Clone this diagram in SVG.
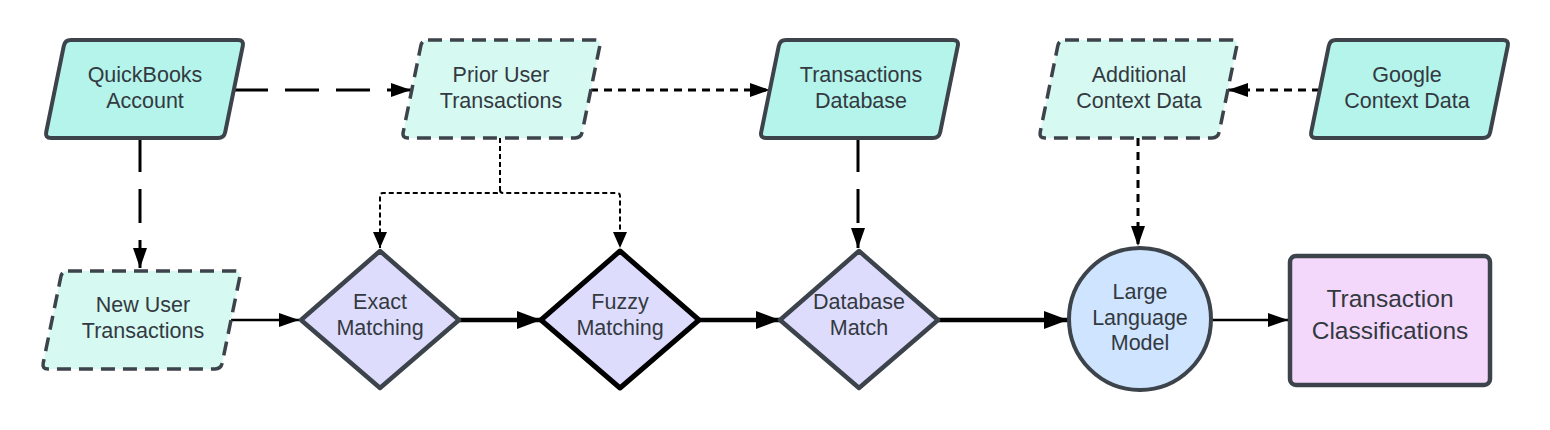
<svg xmlns="http://www.w3.org/2000/svg" xmlns:xlink="http://www.w3.org/1999/xlink" width="1550" height="430" viewBox="0 0 1550 430">
<style>
  .solid { fill: #b4f4ea; stroke: #3c434b; stroke-width: 4; stroke-linejoin: round; }
  .dashed { fill: #d6f9f2; stroke: #3c434b; stroke-width: 3.5; stroke-dasharray: 14 8; stroke-linejoin: round; }
  .dia { fill: #dedcfc; stroke: #3c434b; stroke-width: 4.5; stroke-linejoin: round; }
  .dia-b { fill: #dedcfc; stroke: #000; stroke-width: 5; stroke-linejoin: round; }
  .circ { fill: #cfe4ff; stroke: #3c434b; stroke-width: 4; }
  .rect { fill: #f3d8fb; stroke: #3c434b; stroke-width: 4.5; }
  text { font-family: "Liberation Sans", Arial, sans-serif; font-size: 21.5px; fill: #333941; text-anchor: middle; }
  .big { font-size: 24.5px; }
  .c { fill: none; stroke: #000; }
  .long { stroke-width: 3; stroke-dasharray: 34 17; marker-end: url(#ah); }
  .med { stroke-width: 3; stroke-dasharray: 8 6; marker-end: url(#ah); }
  .fine { stroke-width: 2; stroke-dasharray: 5 3; marker-end: url(#ahs); }
  .thin { stroke-width: 2.5; marker-end: url(#ah); }
  .thick { stroke-width: 4.5; marker-end: url(#ahb); }
</style>
<defs>
  <path id="para" d="M 26,0 L 193,0 Q 199,0 197.8,5.9 L 180.2,92.1 Q 179,98 173,98 L 6,98 Q 0,98 1.2,92.1 L 18.8,5.9 Q 20,0 26,0 Z"/>
  <marker id="ah" markerUnits="userSpaceOnUse" markerWidth="20" markerHeight="14" refX="20" refY="7" orient="auto">
    <path d="M0,0 L20,7 L0,14 Z" fill="#000"/>
  </marker>
  <marker id="ahs" markerUnits="userSpaceOnUse" markerWidth="16" markerHeight="14" refX="16" refY="7" orient="auto">
    <path d="M0,0 L16,7 L0,14 Z" fill="#000"/>
  </marker>
  <marker id="ahb" markerUnits="userSpaceOnUse" markerWidth="24" markerHeight="18" refX="24" refY="9" orient="auto">
    <path d="M0,0 L24,9 L0,18 Z" fill="#000"/>
  </marker>
</defs>

<g id="connectors">
  <path class="c long" d="M 234,90 L 411,90"/>
  <path class="c med" d="M 590,90 L 770,90"/>
  <path class="c med" d="M 1320,90 L 1228,90"/>
  <path class="c long" d="M 140,138 L 140,268"/>
  <path class="c long" d="M 858,138 L 858,248"/>
  <path class="c med" d="M 1138,138 L 1138,246"/>
  <path class="c fine" d="M 500,138 L 500,190 Q 500,193 497,193 L 383,193 Q 380,193 380,196 L 380,248"/>
  <path class="c fine" d="M 500,190 Q 500,193 503,193 L 617,193 Q 620,193 620,196 L 620,248"/>
  <path class="c thin" d="M 227,320 L 299,320"/>
  <path class="c thick" d="M 458,320 L 541,320"/>
  <path class="c thick" d="M 699,320 L 780,320"/>
  <path class="c thick" d="M 938,320 L 1068,320"/>
  <path class="c thin" d="M 1212,320 L 1288,320"/>
</g>

<g id="quickbooks">
  <use xlink:href="#para" class="solid" transform="translate(45,40)"/>
  <text x="145" y="82">QuickBooks</text>
  <text x="145" y="108">Account</text>
</g>
<g id="prior-user">
  <use xlink:href="#para" class="dashed" transform="translate(402,40)"/>
  <text x="501" y="82">Prior User</text>
  <text x="501" y="108">Transactions</text>
</g>
<g id="transactions-db">
  <use xlink:href="#para" class="solid" transform="translate(760,40)"/>
  <text x="861" y="82">Transactions</text>
  <text x="861" y="108">Database</text>
</g>
<g id="additional-context">
  <use xlink:href="#para" class="dashed" transform="translate(1039,40)"/>
  <text x="1139" y="82">Additional</text>
  <text x="1139" y="108">Context Data</text>
</g>
<g id="google-context">
  <use xlink:href="#para" class="solid" transform="translate(1310,40)"/>
  <text x="1407" y="82">Google</text>
  <text x="1407" y="108">Context Data</text>
</g>
<g id="new-user">
  <use xlink:href="#para" class="dashed" transform="translate(42,271)"/>
  <text x="143" y="312">New User</text>
  <text x="143" y="338">Transactions</text>
</g>
<g id="exact-matching">
  <polygon class="dia" points="380,251 459,320 380,388 301,320"/>
  <text x="380" y="309">Exact</text>
  <text x="380" y="335">Matching</text>
</g>
<g id="fuzzy-matching">
  <polygon class="dia-b" points="620,251 699,320 620,388 541,320"/>
  <text x="620" y="309">Fuzzy</text>
  <text x="620" y="335">Matching</text>
</g>
<g id="database-match">
  <polygon class="dia" points="859,251 938,320 859,388 780,320"/>
  <text x="859" y="309">Database</text>
  <text x="859" y="335">Match</text>
</g>
<g id="llm">
  <circle class="circ" cx="1140" cy="319" r="71"/>
  <text x="1140" y="299">Large</text>
  <text x="1140" y="325">Language</text>
  <text x="1140" y="350">Model</text>
</g>
<g id="classifications">
  <rect class="rect" x="1290" y="256" width="200" height="129" rx="6"/>
  <text class="big" x="1390" y="307">Transaction</text>
  <text class="big" x="1390" y="339">Classifications</text>
</g>
</svg>
